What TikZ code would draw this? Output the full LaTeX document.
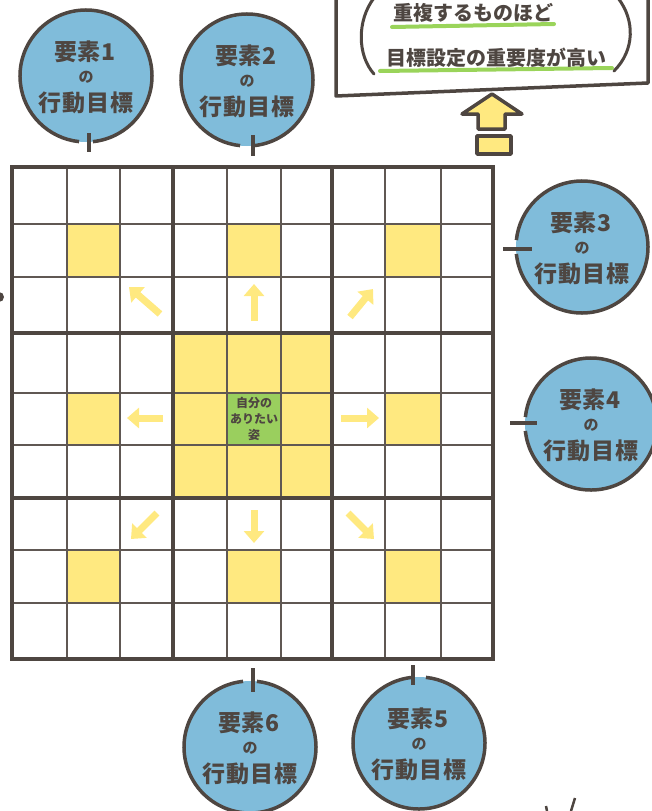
\documentclass[tikz,border=0pt]{standalone}
\usepackage{fontspec}
\newfontfamily\jp{Noto Sans CJK JP}
\usetikzlibrary{arrows.meta,calc}
\definecolor{ink}{RGB}{78,70,65}
\definecolor{inkthin}{RGB}{96,88,83}
\definecolor{bubble}{RGB}{128,188,218}
\definecolor{cellyel}{RGB}{255,233,128}
\definecolor{cellgrn}{RGB}{154,207,94}
\definecolor{linegrn}{RGB}{154,212,90}
\tikzset{
  bub/.style={circle,fill=bubble,minimum size=132pt,inner sep=0pt},
  ring/.style={draw=ink,line width=3.5pt},
  tick/.style={draw=ink,line width=3.5pt},
  big/.style={text=ink,font=\jp\bfseries\fontsize{23}{23}\selectfont\addfontfeature{LetterSpace=4},inner sep=0pt},
  small/.style={text=ink,font=\jp\bfseries\fontsize{15}{15}\selectfont,inner sep=0pt},
  boxt/.style={text=ink,font=\jp\bfseries\fontsize{20}{20}\selectfont,inner sep=0pt},
  ctr/.style={text=ink,font=\jp\bfseries\fontsize{12}{16}\selectfont,inner sep=0pt,align=center},
  gthin/.style={draw=inkthin,line width=2.3pt},
  gthick/.style={draw=ink,line width=4.3pt,line cap=rect},
  yarrow/.style={draw=cellyel,line width=7pt,-{Triangle[length=12pt,width=20pt]}},
  ygreen/.style={draw=linegrn,line width=4pt,line cap=round},
}
\begin{document}
\begin{tikzpicture}[x=1pt,y=-1pt]
\useasboundingbox (0,0) rectangle (652,811);
% ---------- grid fills
\foreach \xa/\xb/\ya/\yb in {67/120/224/277, 227/281/224/277, 385/441/224/277,
  67/120/393/445, 385/441/393/445, 67/120/550/603, 227/281/550/603, 385/441/550/603,
  173/332/333/498}
  \fill[cellyel] (\xa,\ya) rectangle (\xb,\yb);
\node[fill=cellgrn,minimum width=54pt,minimum height=52pt,inner sep=0pt] (goal) at (254,419) {};
\node[ctr] (goaltxt) at (254,419) {自分の\\ありたい\\姿};
% ---------- grid lines
\foreach \x in {67,120,227,281,385,441} \draw[gthin] (\x,167) -- (\x,659);
\foreach \y in {224,277,393,445,550,603} \draw[gthin] (12,\y) -- (493,\y);
\foreach \x in {12,173,332,493} \draw[gthick] (\x,167) -- (\x,659);
\foreach \y in {167,333,498,659} \draw[gthick] (12,\y) -- (493,\y);
% ---------- yellow arrows
\coordinate (aULs) at (160,314); \coordinate (aULe) at (129,287);
\coordinate (aUs) at (254,321);  \coordinate (aUe) at (254,284);
\coordinate (aURs) at (350,317); \coordinate (aURe) at (373,289);
\coordinate (aLs) at (163,418);  \coordinate (aLe) at (127,418);
\coordinate (aRs) at (341,418);  \coordinate (aRe) at (379,418);
\coordinate (aDLs) at (157,513); \coordinate (aDLe) at (131,539);
\coordinate (aDs) at (254,510);  \coordinate (aDe) at (254,543);
\coordinate (aDRs) at (348,513); \coordinate (aDRe) at (374,539);
\foreach \a in {UL,U,UR,L,R,DL,D,DR} \draw[yarrow] (a\a s) -- (a\a e);
% ---------- bubbles
\node[bub] (c1) at (86,76) {};
\node[bub] (c2) at (247,80) {};
\node[bub] (c3) at (582,247) {};
\node[bub] (c4) at (591,424) {};
\node[bub] (c5) at (419,743) {};
\node[bub] (c6) at (250,747) {};
% rings with gaps
\foreach \c in {c1,c2}
  \draw[ring] ([shift={(-84:66pt)}]\c.center) arc[start angle=-84,end angle=264,radius=66pt];
\foreach \c in {c3,c4}
  \draw[ring] ([shift={(-174:66pt)}]\c.center) arc[start angle=-174,end angle=174,radius=66pt];
\foreach \c in {c5,c6}
  \draw[ring] ([shift={(96:66pt)}]\c.center) arc[start angle=96,end angle=444,radius=66pt];
% ticks
\draw[tick] ($(c1.center)+(3,57)$) -- ($(c1.center)+(3,76)$);
\draw[tick] ($(c2.center)+(6,55)$) -- ($(c2.center)+(6,76)$);
\draw[tick] ($(c3.center)+(-79,2)$) -- ($(c3.center)+(-50,2)$);
\draw[tick] ($(c4.center)+(-81,-1)$) -- ($(c4.center)+(-54,-1)$);
\draw[tick] ($(c5.center)+(-6,-78)$) -- ($(c5.center)+(-6,-58)$);
\draw[tick] ($(c6.center)+(3,-79)$) -- ($(c6.center)+(3,-55)$);
% labels
\foreach \c/\n in {c1/1,c2/2,c3/3,c4/4,c5/5,c6/6}{
  \node[big] at ($(\c.center)+(-1,-24)$) {要素\n};
  \node[small] at ($(\c.center)+(0,1)$) {の};
  \node[big] at ($(\c.center)+(0,27)$) {行動目標};
}
% ---------- top box
\draw[draw=ink,line width=3.5pt,line join=round] (336,-5) -- (336,96) -- (648,83) -- (648,-5);
\draw[draw=ink,line width=3pt,line cap=round] (374,-2) .. controls (357,20) and (357,55) .. (374,74);
\draw[draw=ink,line width=3pt,line cap=round] (618,-2) .. controls (635,20) and (635,50) .. (614,71);
\draw[ygreen] (392,27) -- (554,24);
\draw[ygreen] (380,71) -- (612,68);
\node[boxt] (msg1) at (473,13) {重複するものほど};
\node[boxt] (msg2) at (496,58) {目標設定の重要度が高い};
% up arrow
\draw[draw=ink,fill=cellyel,line width=3.5pt,line join=round]
  (492,94) -- (522,114) -- (505,114) -- (505,129) -- (478,129) -- (478,114) -- (462,114) -- cycle;
\draw[draw=ink,fill=cellyel,line width=3.5pt,line join=round] (477,136) rectangle (511,154);
% ---------- stray marks
\fill[ink] (-1,297) circle[radius=5pt];
\draw[draw=ink,line width=2.5pt] (546,806) -- (547,811);
\draw[draw=ink,line width=2.5pt] (575,798) -- (571,811);
\end{tikzpicture}
\end{document}
